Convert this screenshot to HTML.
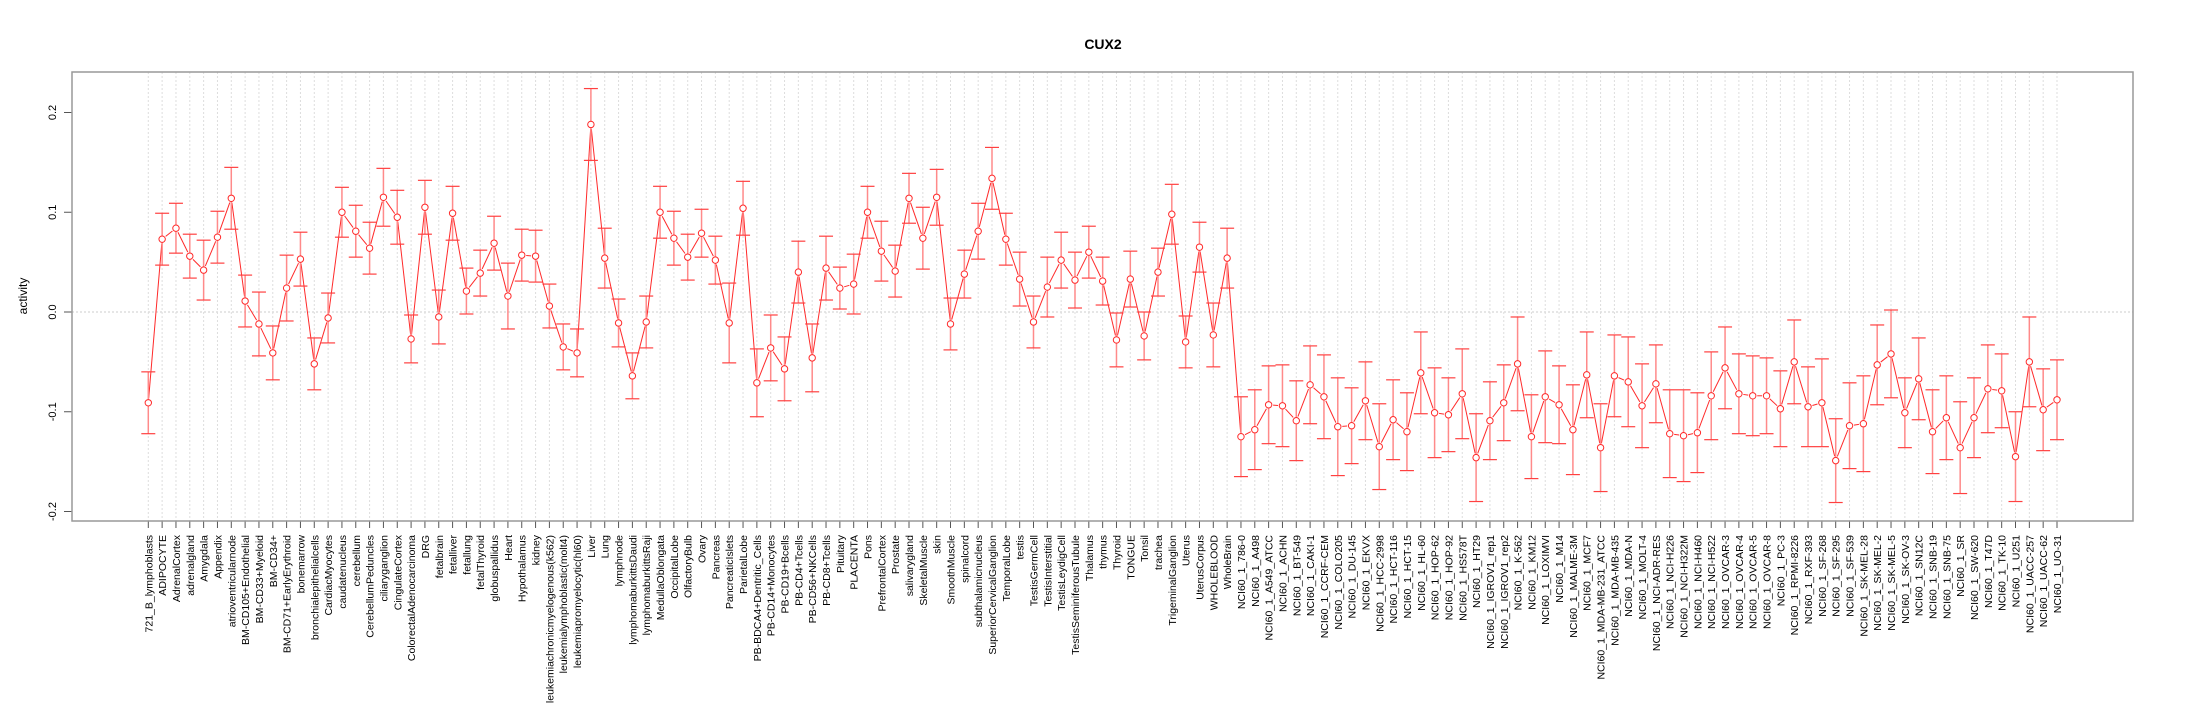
<!DOCTYPE html>
<html><head><meta charset="utf-8">
<style>
html,body{margin:0;padding:0;background:#fff;}
svg{display:block;font-family:"Liberation Sans",Arial,sans-serif;}
</style></head>
<body>
<svg id="chart" width="2205" height="720" viewBox="0 0 2205 720" xmlns="http://www.w3.org/2000/svg">
<text x="1103" y="49" text-anchor="middle" font-size="14" font-weight="bold">CUX2</text>
<text transform="translate(27,296) rotate(-90)" text-anchor="middle" font-size="12">activity</text>
<g id="grid"></g>
<g id="yaxis"></g>
<g id="xaxis"></g>
<g id="series"></g>
<rect x="72" y="72" width="2061" height="449" fill="none" stroke="#999" stroke-width="1.5"/>
</svg>
<script>
const categories = ["721_B_lymphoblasts","ADIPOCYTE","AdrenalCortex","adrenalgland","Amygdala","Appendix","atrioventricularnode","BM-CD105+Endothelial","BM-CD33+Myeloid","BM-CD34+","BM-CD71+EarlyErythroid","bonemarrow","bronchialepithelialcells","CardiacMyocytes","caudatenucleus","cerebellum","CerebellumPeduncles","ciliaryganglion","CingulateCortex","ColorectalAdenocarcinoma","DRG","fetalbrain","fetalliver","fetallung","fetalThyroid","globuspallidus","Heart","Hypothalamus","kidney","leukemiachronicmyelogenous(k562)","leukemialymphoblastic(molt4)","leukemiapromyelocytic(hl60)","Liver","Lung","lymphnode","lymphomaburkittsDaudi","lymphomaburkittsRaji","MedullaOblongata","OccipitalLobe","OlfactoryBulb","Ovary","Pancreas","PancreaticIslets","ParietalLobe","PB-BDCA4+Dentritic_Cells","PB-CD14+Monocytes","PB-CD19+Bcells","PB-CD4+Tcells","PB-CD56+NKCells","PB-CD8+Tcells","Pituitary","PLACENTA","Pons","PrefrontalCortex","Prostate","salivarygland","SkeletalMuscle","skin","SmoothMuscle","spinalcord","subthalamicnucleus","SuperiorCervicalGanglion","TemporalLobe","testis","TestisGermCell","TestisInterstitial","TestisLeydigCell","TestisSeminiferousTubule","Thalamus","thymus","Thyroid","TONGUE","Tonsil","trachea","TrigeminalGanglion","Uterus","UterusCorpus","WHOLEBLOOD","WholeBrain","NCI60_1_786-0","NCI60_1_A498","NCI60_1_A549_ATCC","NCI60_1_ACHN","NCI60_1_BT-549","NCI60_1_CAKI-1","NCI60_1_CCRF-CEM","NCI60_1_COLO205","NCI60_1_DU-145","NCI60_1_EKVX","NCI60_1_HCC-2998","NCI60_1_HCT-116","NCI60_1_HCT-15","NCI60_1_HL-60","NCI60_1_HOP-62","NCI60_1_HOP-92","NCI60_1_HS578T","NCI60_1_HT29","NCI60_1_IGROV1_rep1","NCI60_1_IGROV1_rep2","NCI60_1_K-562","NCI60_1_KM12","NCI60_1_LOXIMVI","NCI60_1_M14","NCI60_1_MALME-3M","NCI60_1_MCF7","NCI60_1_MDA-MB-231_ATCC","NCI60_1_MDA-MB-435","NCI60_1_MDA-N","NCI60_1_MOLT-4","NCI60_1_NCI-ADR-RES","NCI60_1_NCI-H226","NCI60_1_NCI-H322M","NCI60_1_NCI-H460","NCI60_1_NCI-H522","NCI60_1_OVCAR-3","NCI60_1_OVCAR-4","NCI60_1_OVCAR-5","NCI60_1_OVCAR-8","NCI60_1_PC-3","NCI60_1_RPMI-8226","NCI60_1_RXF-393","NCI60_1_SF-268","NCI60_1_SF-295","NCI60_1_SF-539","NCI60_1_SK-MEL-28","NCI60_1_SK-MEL-2","NCI60_1_SK-MEL-5","NCI60_1_SK-OV-3","NCI60_1_SN12C","NCI60_1_SNB-19","NCI60_1_SNB-75","NCI60_1_SR","NCI60_1_SW-620","NCI60_1_T47D","NCI60_1_TK-10","NCI60_1_U251","NCI60_1_UACC-257","NCI60_1_UACC-62","NCI60_1_UO-31"];
const values = [-0.091,0.073,0.084,0.056,0.042,0.075,0.114,0.011,-0.012,-0.041,0.024,0.053,-0.052,-0.006,0.100,0.081,0.064,0.115,0.095,-0.027,0.105,-0.005,0.099,0.021,0.039,0.069,0.016,0.057,0.056,0.006,-0.035,-0.041,0.188,0.054,-0.011,-0.064,-0.010,0.100,0.074,0.055,0.079,0.052,-0.011,0.104,-0.071,-0.036,-0.057,0.040,-0.046,0.044,0.024,0.028,0.100,0.061,0.041,0.114,0.074,0.115,-0.012,0.038,0.081,0.134,0.073,0.033,-0.010,0.025,0.052,0.032,0.060,0.031,-0.028,0.033,-0.024,0.040,0.098,-0.030,0.065,-0.023,0.054,-0.125,-0.118,-0.093,-0.094,-0.109,-0.073,-0.085,-0.115,-0.114,-0.089,-0.135,-0.108,-0.120,-0.061,-0.101,-0.103,-0.082,-0.146,-0.109,-0.091,-0.052,-0.125,-0.085,-0.093,-0.118,-0.063,-0.136,-0.064,-0.070,-0.094,-0.072,-0.122,-0.124,-0.121,-0.084,-0.056,-0.082,-0.084,-0.084,-0.097,-0.050,-0.095,-0.091,-0.149,-0.114,-0.112,-0.053,-0.042,-0.101,-0.067,-0.120,-0.106,-0.136,-0.106,-0.077,-0.079,-0.145,-0.050,-0.098,-0.088];
const errors = [0.031,0.026,0.025,0.022,0.030,0.026,0.031,0.026,0.032,0.027,0.033,0.027,0.026,0.025,0.025,0.026,0.026,0.029,0.027,0.024,0.027,0.027,0.027,0.023,0.023,0.027,0.033,0.026,0.026,0.022,0.023,0.024,0.036,0.030,0.024,0.023,0.026,0.026,0.027,0.023,0.024,0.024,0.040,0.027,0.034,0.033,0.032,0.031,0.034,0.032,0.021,0.030,0.026,0.030,0.026,0.025,0.031,0.028,0.026,0.024,0.028,0.031,0.026,0.027,0.026,0.030,0.028,0.028,0.026,0.024,0.027,0.028,0.024,0.024,0.030,0.026,0.025,0.032,0.030,0.040,0.040,0.039,0.041,0.040,0.039,0.042,0.049,0.038,0.039,0.043,0.040,0.039,0.041,0.045,0.037,0.045,0.044,0.039,0.038,0.047,0.042,0.046,0.039,0.045,0.043,0.044,0.041,0.045,0.042,0.039,0.044,0.046,0.040,0.044,0.041,0.040,0.040,0.038,0.038,0.042,0.040,0.044,0.042,0.043,0.048,0.040,0.044,0.035,0.041,0.042,0.042,0.046,0.040,0.044,0.037,0.045,0.045,0.041,0.040];
const yTicks = [-0.2,-0.1,0.0,0.1,0.2];
const yTickLabels = ["-0.2","-0.1","0.0","0.1","0.2"];

const NS = "http://www.w3.org/2000/svg";
const X0 = 148.3, DX = (2057 - 148.3) / 138;
function xScale(i){ return X0 + i * DX; }
function yScale(v){ return 312 - v * 997.5; }
function mk(tag, attrs, parent){
  const e = document.createElementNS(NS, tag);
  for (const k in attrs) e.setAttribute(k, attrs[k]);
  parent.appendChild(e); return e;
}
const grid = document.getElementById('grid');
const yaxis = document.getElementById('yaxis');
const xaxis = document.getElementById('xaxis');
const series = document.getElementById('series');

const yl = mk('line', {x1:72,x2:72,y1:yScale(0.2),y2:yScale(-0.2),stroke:'#555','stroke-width':1}, yaxis);


yTicks.forEach((t, k) => {
  const y = yScale(t);
  const tk = mk('line', {x1:64,x2:72,y1:y,y2:y,stroke:'#555'}, yaxis);
  
  
  const tx = mk('text', {transform:`translate(56,${y}) rotate(-90)`,'text-anchor':'middle','font-size':11}, yaxis);
  
  
  tx.textContent = yTickLabels[k];
});
const zl = mk('line', {x1:72,x2:2133,y1:yScale(0),y2:yScale(0),stroke:'#ccc','stroke-dasharray':'2,2'}, grid);



const xl = mk('line', {x1:xScale(0),x2:xScale(categories.length-1),y1:521,y2:521,stroke:'#555'}, xaxis);



categories.forEach((c, i) => {
  const x = xScale(i);
  const g = mk('line', {x1:x,x2:x,y1:72,y2:521,stroke:'#ddd','stroke-dasharray':'2,2'}, grid);
  
  
  const tk = mk('line', {x1:x,x2:x,y1:521,y2:528,stroke:'#555'}, xaxis);
  
  
  const tx = mk('text', {transform:`translate(${x+4},535) rotate(-90)`,'text-anchor':'end','font-size':10.5}, xaxis);
  
  
  tx.textContent = c;
});

for (let i = 0; i < values.length - 1; i++) {
  const x1 = xScale(i), y1 = yScale(values[i]), x2 = xScale(i+1), y2 = yScale(values[i+1]);
  const L = Math.hypot(x2-x1, y2-y1), g = 4.5;
  if (L <= 2*g) continue;
  const ux = (x2-x1)/L, uy = (y2-y1)/L;
  const s = mk('line', {x1:x1+ux*g,y1:y1+uy*g,x2:x2-ux*g,y2:y2-uy*g,stroke:'#ff2a2a','stroke-width':1}, series);
  
  
}
values.forEach((v, i) => {
  const x = xScale(i), yt = yScale(v + errors[i]), yb = yScale(v - errors[i]), y = yScale(v);
  const eb = mk('line', {x1:x,x2:x,y1:yt,y2:yb,stroke:'#ff8a8a','stroke-width':1.5}, series);
  
  
  const ct = mk('line', {x1:x-7,x2:x+7,y1:yt,y2:yt,stroke:'#ff4040','stroke-width':1.2}, series);
  
  
  const cb = mk('line', {x1:x-7,x2:x+7,y1:yb,y2:yb,stroke:'#ff4040','stroke-width':1.2}, series);
  
  
  const p = mk('circle', {cx:x,cy:y,r:3.2,fill:'#fff',stroke:'#ff2a2a','stroke-width':1}, series);
  
  
});
</script>
</body></html>
